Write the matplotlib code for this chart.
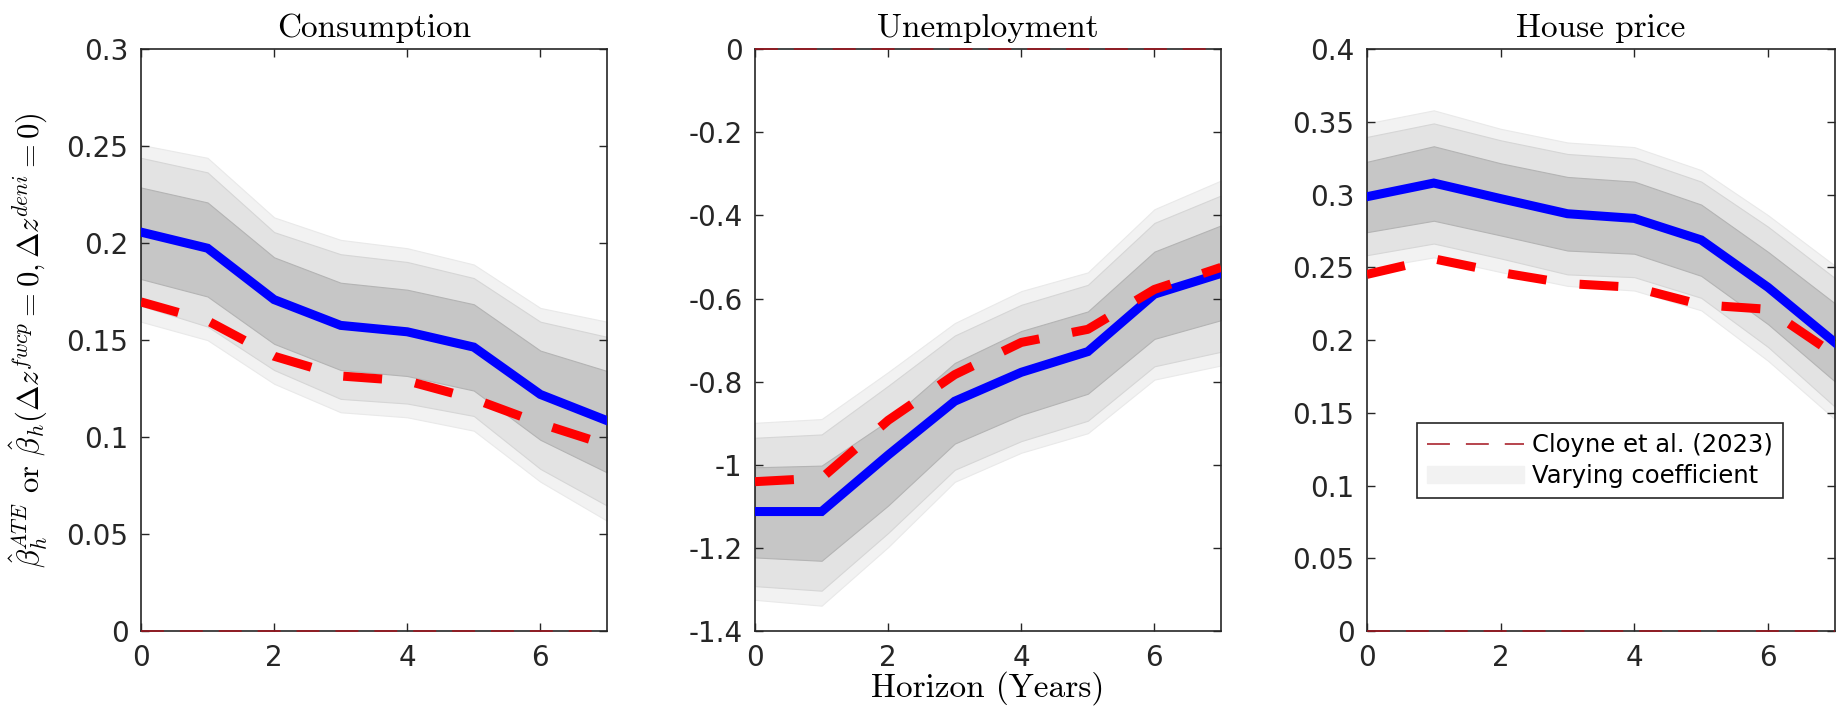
import numpy as np
import matplotlib
matplotlib.use("Agg")
import matplotlib.pyplot as plt
from matplotlib.patches import Patch
from matplotlib.lines import Line2D

plt.rcParams['mathtext.fontset'] = 'cm'
plt.rcParams['font.family'] = 'DejaVu Sans'
plt.rcParams['lines.scale_dashes'] = False

horizon = np.arange(8)
titles = ['Consumption', 'Unemployment', 'House price']

# consumption
cons_vc = [0.2057, 0.1974, 0.1709, 0.1576, 0.1543, 0.1464, 0.1220, 0.1085]
cons_ate = [0.1697, 0.1600, 0.1417, 0.1315, 0.1290, 0.1197, 0.1070, 0.0960]
cons_hi90 = [0.2507, 0.2440, 0.2133, 0.2017, 0.1974, 0.1890, 0.1666, 0.1595]
cons_hi80 = [0.2440, 0.2365, 0.2057, 0.1943, 0.1903, 0.1820, 0.1595, 0.1517]
cons_hi68 = [0.2287, 0.2210, 0.1927, 0.1796, 0.1760, 0.1685, 0.1446, 0.1341]
cons_lo68 = [0.1815, 0.1725, 0.1481, 0.1346, 0.1315, 0.1240, 0.0986, 0.0818]
cons_lo80 = [0.1677, 0.1570, 0.1346, 0.1197, 0.1173, 0.1109, 0.0836, 0.0647]
cons_lo90 = [0.1595, 0.1500, 0.1275, 0.1128, 0.1102, 0.1033, 0.0770, 0.0569]

# unemployment
unemp_vc = [-1.1125, -1.1125, -0.9765, -0.8470, -0.7774, -0.7276, -0.5894, -0.5396]
unemp_ate = [-1.0406, -1.0320, -0.8930, -0.7830, -0.7055, -0.6740, -0.5780, -0.5250]
unemp_hi90 = [-0.899, -0.890, -0.777, -0.659, -0.582, -0.537, -0.385, -0.316]
unemp_hi80 = [-0.935, -0.927, -0.810, -0.689, -0.615, -0.567, -0.418, -0.352]
unemp_hi68 = [-1.006, -1.002, -0.894, -0.755, -0.678, -0.631, -0.487, -0.424]
unemp_lo68 = [-1.223, -1.231, -1.098, -0.949, -0.880, -0.829, -0.697, -0.652]
unemp_lo80 = [-1.292, -1.303, -1.164, -1.012, -0.943, -0.894, -0.763, -0.728]
unemp_lo90 = [-1.325, -1.339, -1.198, -1.041, -0.971, -0.924, -0.795, -0.761]

# house price
hp_vc = [0.2986, 0.3080, 0.2973, 0.2869, 0.2837, 0.2689, 0.2363, 0.1984]
hp_ate = [0.2452, 0.2559, 0.2465, 0.2389, 0.2363, 0.2243, 0.2212, 0.1900]
hp_hi90 = [0.3490, 0.3580, 0.3453, 0.3359, 0.3327, 0.3169, 0.2859, 0.2512]
hp_hi80 = [0.3397, 0.3490, 0.3374, 0.3280, 0.3248, 0.3090, 0.2780, 0.2427]
hp_hi68 = [0.3226, 0.3333, 0.3216, 0.3122, 0.3090, 0.2932, 0.2607, 0.2253]
hp_lo68 = [0.2742, 0.2821, 0.2720, 0.2616, 0.2594, 0.2442, 0.2110, 0.1716]
hp_lo80 = [0.2584, 0.2664, 0.2562, 0.2452, 0.2433, 0.2291, 0.1953, 0.1542]
hp_lo90 = [0.2490, 0.2569, 0.2468, 0.2373, 0.2341, 0.2205, 0.1858, 0.1457]

panels = [
    (cons_vc, cons_ate, [(cons_lo90, cons_hi90), (cons_lo80, cons_hi80), (cons_lo68, cons_hi68)]),
    (unemp_vc, unemp_ate, [(unemp_lo90, unemp_hi90), (unemp_lo80, unemp_hi80), (unemp_lo68, unemp_hi68)]),
    (hp_vc, hp_ate, [(hp_lo90, hp_hi90), (hp_lo80, hp_hi80), (hp_lo68, hp_hi68)]),
]
ylims = [(0, 0.3), (-1.4, 0), (0, 0.4)]
ysteps = [0.05, 0.2, 0.05]

band_fc = ['#f2f2f2', '#e3e3e3', '#c6c6c6']
band_ec = ['#e9e9e9', '#d6d6d6', '#b4b4b4']
zero_red = '#a3121c'
dark = '#262626'

fig = plt.figure(figsize=(18.38, 7.2), dpi=100)
lefts = [0.0767, 0.4108, 0.7437]
widths = [0.2535, 0.2535, 0.2546]

for i, (vc, ate, bands) in enumerate(panels):
    ax = fig.add_axes([lefts[i], 0.1236, widths[i], 0.808])
    for (lo, hi), fc, ec in zip(bands, band_fc, band_ec):
        ax.fill_between(horizon, lo, hi, facecolor=fc, edgecolor=ec, lw=0.8, zorder=1)
    ax.plot(horizon, vc, color='blue', lw=6.5, solid_joinstyle='miter', zorder=3)
    ax.plot(horizon, ate, color='red', lw=6.5, dashes=(28, 24), dash_capstyle='butt', zorder=4)
    # zero reference line
    ax.plot([0, 7], [0, 0], color=zero_red, lw=1.1, dashes=(16.5, 11.5), clip_on=False, zorder=6)

    lo_y, hi_y = ylims[i]
    yt = np.round(np.arange(lo_y, hi_y + 1e-9, ysteps[i]), 3) + 0.0
    ax.set_yticks(yt)
    ax.set_yticklabels(['0' if v == 0 else f'{v:g}' for v in yt])
    ax.set_ylim(lo_y, hi_y)
    ax.set_xlim(0, 7)
    ax.set_xticks([0, 2, 4, 6])
    ax.tick_params(direction='in', length=6, width=1.0, top=True, right=True,
                   labelsize=20, colors=dark, pad=9)
    for s in ax.spines.values():
        s.set_color(dark)
        s.set_linewidth(1.2)
    ax.set_title(titles[i], fontfamily='cmr10', fontsize=24, pad=9)

    if i == 0:
        ax.set_ylabel(r'$\hat{\beta}_h^{ATE}$ or $\hat{\beta}_h(\Delta z^{fwcp}=0,\Delta z^{deni}=0)$',
                      fontfamily='cmr10', fontsize=22, labelpad=12)
    if i == 1:
        ax.set_xlabel('Horizon (Years)', fontfamily='cmr10', fontsize=24, labelpad=0)
    if i == 2:
        handles = [Line2D([], [], color=zero_red, lw=1.1, dashes=(16.5, 11.5)),
                   Patch(facecolor='#f2f2f2', edgecolor='#f2f2f2')]
        leg = ax.legend(handles, ['Cloyne et al. (2023)', 'Varying coefficient'],
                        loc='lower left', bbox_to_anchor=(0.107, 0.2285), borderaxespad=0,
                        fontsize=17.5, handlelength=4.0, handletextpad=0.33, fancybox=False,
                        framealpha=1, borderpad=0.4, labelspacing=0.3)
        leg.get_frame().set_edgecolor(dark)
        leg.get_frame().set_linewidth(1.2)

fig.savefig('out.png', dpi=100)
